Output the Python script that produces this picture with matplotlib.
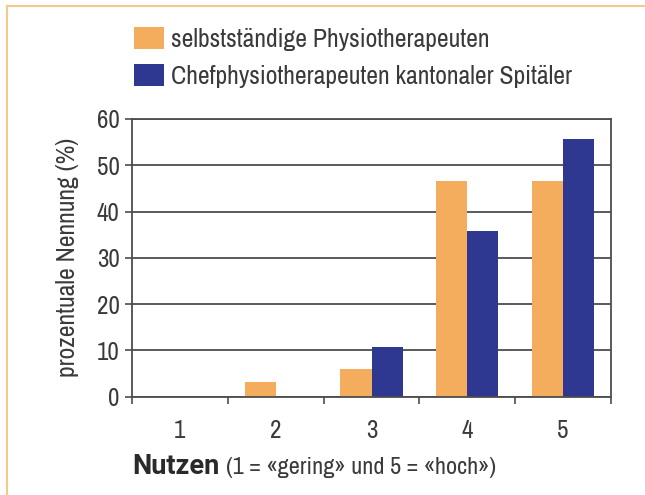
import matplotlib
matplotlib.use("Agg")
import matplotlib.pyplot as plt
from matplotlib.patches import Patch
from matplotlib.lines import Line2D
import numpy as np

categories = ["1", "2", "3", "4", "5"]
selbst = [0, 3.1, 6.0, 46.7, 46.7]
chef = [0, 0, 10.7, 35.7, 55.7]
series_names = ["selbstständige Physiotherapeuten", "Chefphysiotherapeuten kantonaler Spitäler"]
yticks = [0, 10, 20, 30, 40, 50, 60]

plt.rcParams['font.family'] = ['Archivo Narrow', 'DejaVu Sans']

ORANGE = "#F3AD5C"
BLUE = "#2F3890"
GRID = "#4d4d4d"
TXT = "#3a3a3a"

W, H = 645, 495
fig = plt.figure(figsize=(W/100, H/100), dpi=100)
ax = fig.add_axes([132/W, 1-396.7/H, (611-132)/W, (396.7-119)/H])

x = np.arange(len(categories))
w = 0.325
ax.bar(x - w/2, selbst, w, color=ORANGE, zorder=2)
ax.bar(x + w/2, chef, w, color=BLUE, zorder=2)

ax.set_xlim(-0.5, len(categories) - 0.5)
ax.set_ylim(0, 60)
ax.set_yticks(yticks)
ax.set_yticklabels([str(v) for v in yticks], fontsize=18, color=TXT)
ax.yaxis.grid(True, color=GRID, linewidth=1.3, zorder=1)
ax.set_axisbelow(True)

ax.set_xticks(np.arange(len(categories) + 1) - 0.5)
ax.set_xticklabels([])
ax.set_xticks(x, minor=True)
ax.set_xticklabels(categories, minor=True, fontsize=18, color=TXT)
ax.tick_params(axis='x', which='minor', length=0, pad=16)
ax.tick_params(axis='x', which='major', length=5, width=1.2, color=GRID, direction='out')
ax.tick_params(axis='y', length=5, width=1.2, color=GRID, pad=4)

for s in ax.spines.values():
    s.set_color(GRID)
    s.set_linewidth(1.3)

ax.set_ylabel("prozentuale Nennung (%)", fontsize=18.5, color=TXT, labelpad=13)

# x label: bold part + regular part
t1 = fig.text(132/W, 1-467/H, "Nutzen", fontsize=19.5, fontweight='bold',
              family=['Roboto', 'DejaVu Sans'], color="#2a2a2a", va='center', ha='left')
fig.canvas.draw()
bb = t1.get_window_extent()
fig.text((bb.x1 + 7)/W, 1-467/H, "(1 = «gering» und 5 = «hoch»)", fontsize=17.5, color=TXT, va='center', ha='left')

# legend
handles = [Patch(facecolor=ORANGE, edgecolor='none'), Patch(facecolor=BLUE, edgecolor='none')]
fig.legend(handles, series_names, loc='upper left', bbox_to_anchor=(134/W, 1-27/H),
           frameon=False, fontsize=18.5, handlelength=1.15, handleheight=0.95,
           handletextpad=0.3, labelspacing=0.5, borderpad=0, borderaxespad=0,
           labelcolor=TXT)

# decorative frame lines (top and left)
fig.add_artist(Line2D([7/W, 1], [1-6/H, 1-6/H], color="#F5C98C", linewidth=1.5, transform=fig.transFigure))
fig.add_artist(Line2D([7/W, 7/W], [0, 1-6/H], color="#F5C98C", linewidth=1.5, transform=fig.transFigure))

fig.savefig("out.png", dpi=100, facecolor='white')
